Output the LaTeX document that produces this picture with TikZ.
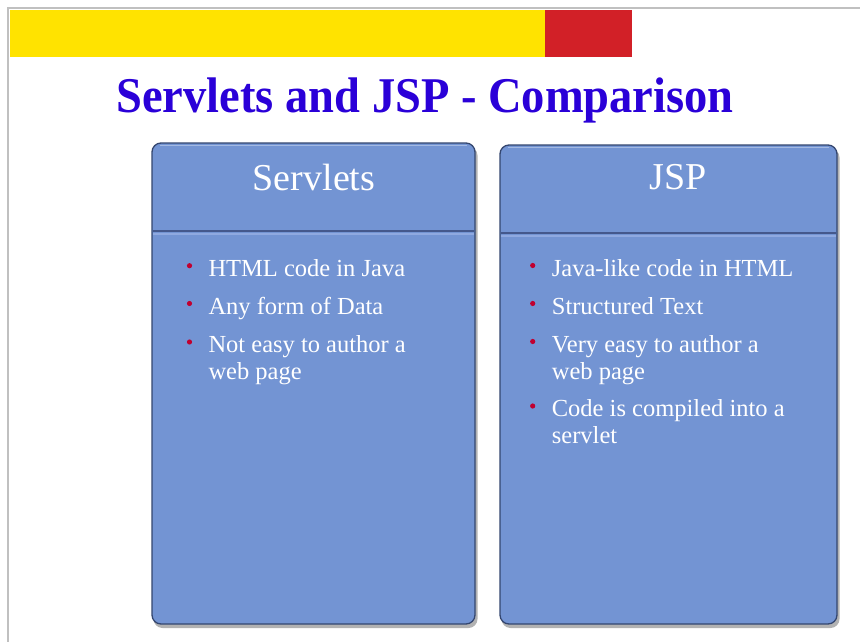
\documentclass[tikz,border=0pt]{standalone}
\usepackage{fontspec}
\setmainfont{Liberation Serif}
\definecolor{boxblue}{HTML}{7394D3}
\definecolor{boxedge}{HTML}{34466F}
\definecolor{sepdark}{HTML}{44588C}
\definecolor{seplight}{HTML}{8FA9E0}
\definecolor{titleblue}{HTML}{2A00D8}
\definecolor{barYellow}{HTML}{FFE300}
\definecolor{barRed}{HTML}{D22027}
\definecolor{bulletred}{HTML}{C00030}
\definecolor{framegray}{HTML}{C0C0C0}
\tikzset{
  panel/.style={rounded corners=9pt, fill=boxblue, draw=boxedge, line width=1.3pt},
  panelshadow/.style={rounded corners=9pt, fill=black, opacity=0.3},
  headtext/.style={anchor=base, text=white, font=\fontsize{38}{40}\selectfont, inner sep=0pt},
  itemtext/.style={anchor=base west, text=white, font=\fontsize{24.5}{27}\selectfont, inner sep=0pt},
  bulletdot/.style={circle, fill=bulletred, inner sep=0pt, minimum size=5.2pt},
}
\begin{document}
\begin{tikzpicture}[x=1pt,y=-1pt]
\useasboundingbox (0,0) rectangle (860,642);
\fill[white] (0,0) rectangle (860,642);
% frame
\draw[framegray, line width=2.5pt] (8,642) -- (8,8) -- (860,8);
% bars
\fill[barYellow] (9.5,10) rectangle (545,57);
\fill[barRed] (545,10) rectangle (632,57);
% title
\node[anchor=base, text=titleblue, inner sep=0pt] (title) at (425,112)
  {\scalebox{0.93}[1]{\fontsize{50}{52}\selectfont\bfseries Servlets and JSP - Comparison}};
% left panel
\fill[panelshadow] (153.5,146.5) rectangle (477.5,628);
\draw[panel] (152,143) rectangle (475,624);
\draw[sepdark, line width=2pt] (153,231) -- (474,231);
\draw[seplight, line width=1.5pt] (153,234) -- (474,234);
\draw[white, opacity=0.35, line width=1pt] (160,145) -- (467,145);
% right panel
\fill[panelshadow] (501.5,148.5) rectangle (839.5,628);
\draw[panel] (500,145) rectangle (837,624);
\draw[sepdark, line width=2pt] (501,233) -- (836,233);
\draw[seplight, line width=1.5pt] (501,236) -- (836,236);
\draw[white, opacity=0.35, line width=1pt] (508,147) -- (829,147);
% headers
\node[headtext] (hs) at (314,190) {Servlets};
\node[headtext] (hj) at (678,189) {JSP};
% left items
\node[bulletdot] (lb1) at (189.5,265.7) {};
\node[itemtext] (l1) at (208.3,276.7) {HTML code in Java};
\node[bulletdot] (lb2) at (189.5,303.5) {};
\node[itemtext] (l2) at (208.3,314) {Any form of Data};
\node[bulletdot] (lb3) at (189.5,342) {};
\node[itemtext] (l3a) at (208.3,352.7) {Not easy to author a};
\node[itemtext] (l3b) at (208.3,379.5) {web page};
% right items
\node[bulletdot] (rb1) at (532.7,265.5) {};
\node[itemtext] (r1) at (551.7,276.5) {Java-like code in HTML};
\node[bulletdot] (rb2) at (532.7,303.5) {};
\node[itemtext] (r2) at (551.7,314) {Structured Text};
\node[bulletdot] (rb3) at (532.7,341.5) {};
\node[itemtext] (r3a) at (551.7,352) {Very easy to author a};
\node[itemtext] (r3b) at (551.7,379.5) {web page};
\node[bulletdot] (rb4) at (532.7,406) {};
\node[itemtext] (r4a) at (551.7,416.7) {Code is compiled into a};
\node[itemtext] (r4b) at (551.7,443.5) {servlet};
\end{tikzpicture}
\end{document}
